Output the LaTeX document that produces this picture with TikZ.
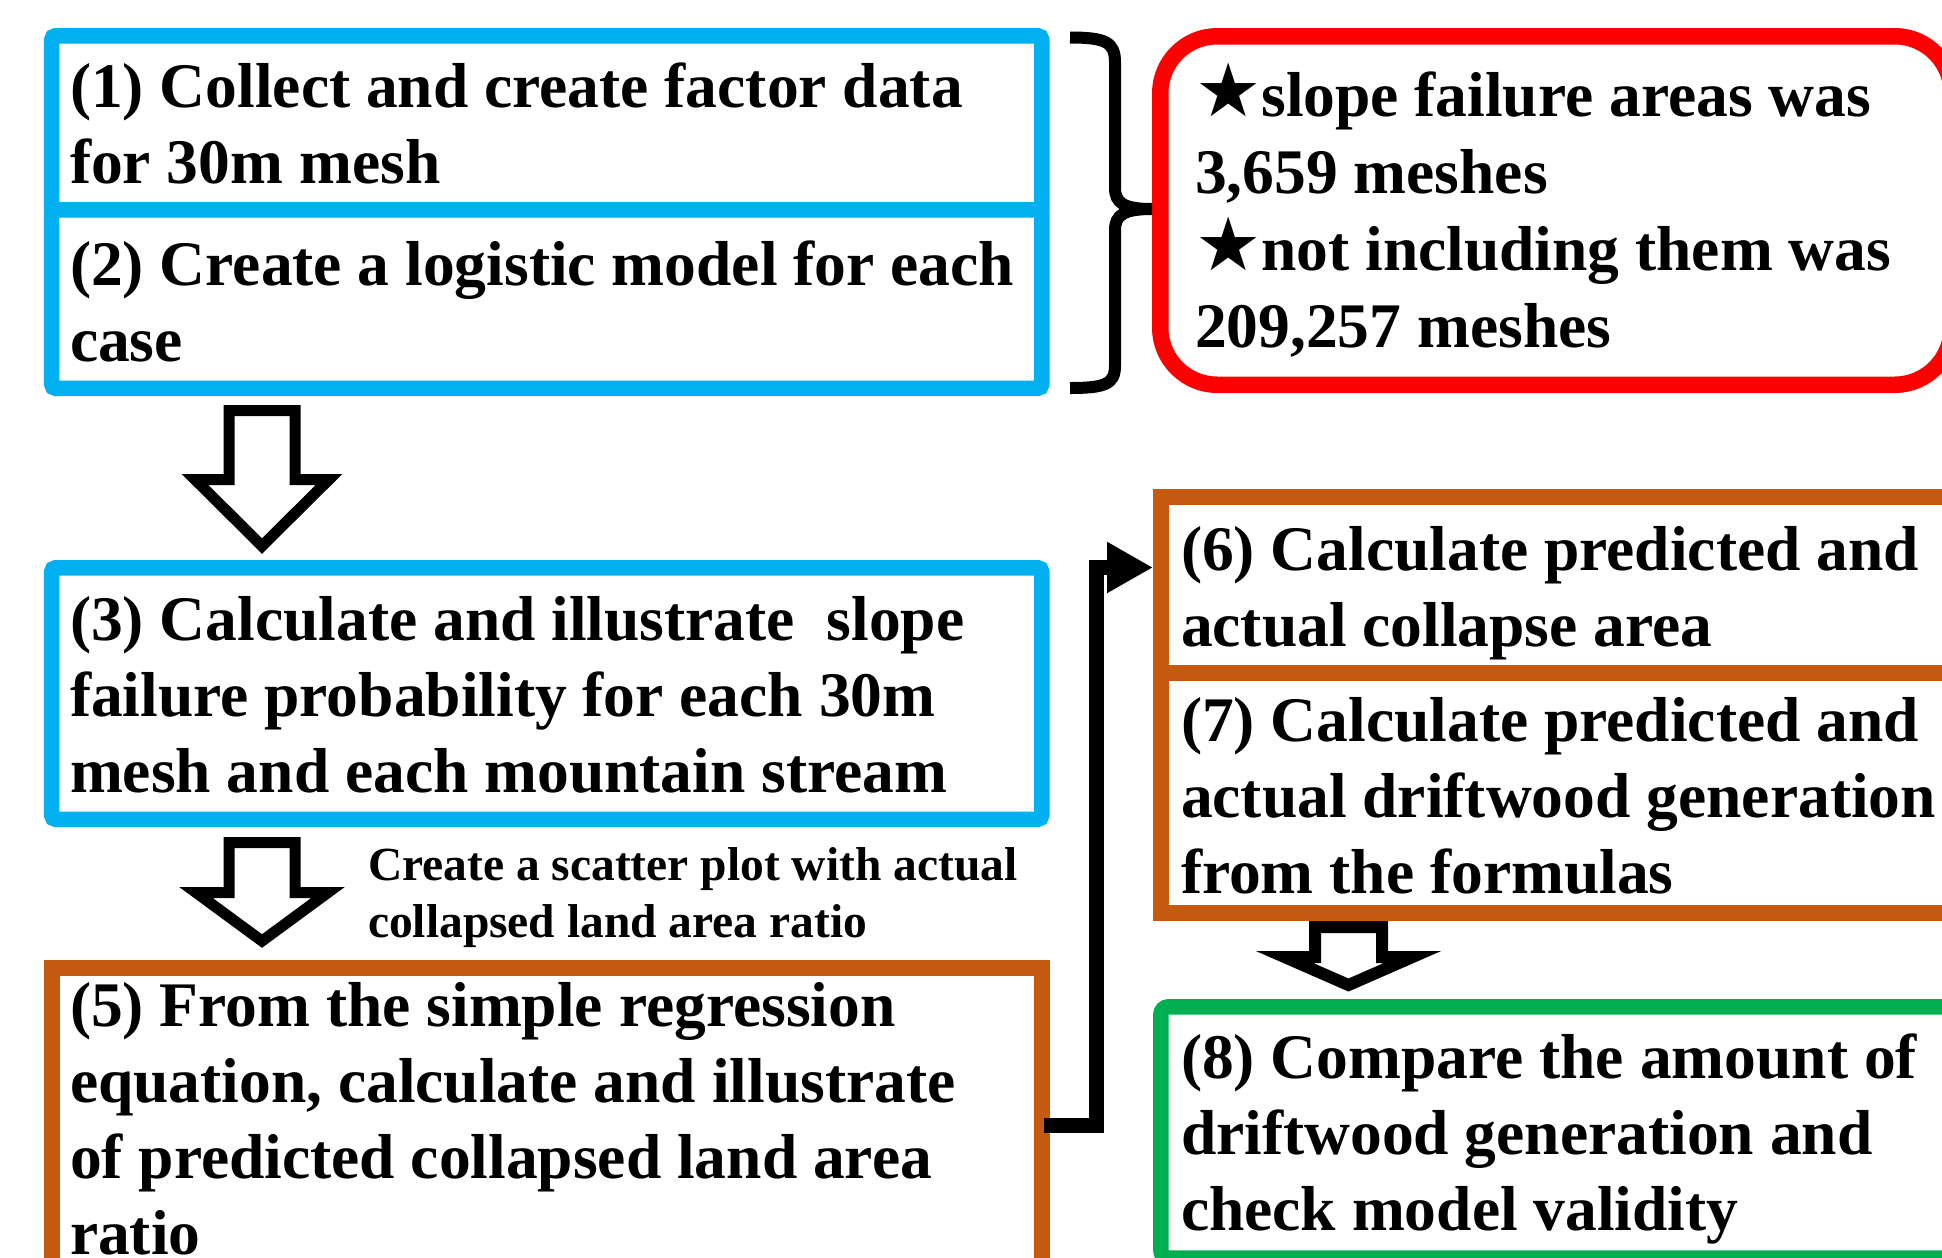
\documentclass[tikz,border=0pt]{standalone}
\usepackage{fontspec}
\setmainfont{Liberation Serif}
\newfontfamily\starfont{DejaVu Sans}
\usetikzlibrary{arrows.meta}

\definecolor{stepblue}{HTML}{00B0F0}
\definecolor{steporange}{HTML}{C55A11}
\definecolor{stepred}{HTML}{FF0000}
\definecolor{stepgreen}{HTML}{00B050}

\tikzset{
  box/.style={rectangle, inner sep=0pt, fill=white},
  bluebox/.style={box, draw=stepblue, line width=15.5bp, rounded corners=4bp},
  orangebox/.style={box, draw=steporange, line width=16bp},
  greenbox/.style={box, draw=stepgreen, line width=15.5bp, rounded corners=8bp},
  redbox/.style={box, draw=stepred, line width=16.5bp, rounded corners=57bp},
  % multi-line texts are anchored at the baseline of their last line
  steptext/.style={anchor=base west, inner sep=0pt, outer sep=0pt, align=left,
    font=\bfseries\fontsize{63.5bp}{76bp}\selectfont},
  notetext/.style={steptext, font=\bfseries\fontsize{47.5bp}{57bp}\selectfont},
  blockarrow/.style={draw=black, fill=white, line width=11bp, line join=miter},
  link/.style={draw=black, line width=15bp, line join=miter,
    -{Triangle[length=46bp, width=48bp]}},
  brace/.style={draw=black, line width=12bp, line cap=butt},
}
\newcommand{\bigstar}{{\starfont\fontsize{74bp}{74bp}\selectfont ★}}

\begin{document}
\begin{tikzpicture}[x=1bp, y=-1bp]
\useasboundingbox[fill=white] (0,0) rectangle (1942,1257);

% left column boxes
\node[bluebox, minimum width=990bp, minimum height=177.5bp] (b1) at (546.75,124.5) {};
\node[bluebox, minimum width=990bp, minimum height=178.5bp] (b2) at (546.75,299) {};
\node[bluebox, minimum width=990bp, minimum height=251.5bp] (b3) at (546.75,693.5) {};
\node[orangebox, minimum width=990bp, minimum height=332.25bp] (b5) at (546.75,1133.9) {};

% right column boxes
\node[redbox, minimum width=791.5bp, minimum height=348.5bp] (note) at (1556,210.5) {};
\node[orangebox, minimum width=799bp, minimum height=177bp] (b6) at (1560.5,585.5) {};
\node[orangebox, minimum width=799bp, minimum height=240bp] (b7) at (1560.5,793) {};
\node[greenbox, minimum width=799.25bp, minimum height=251.25bp] (b8) at (1560.4,1132.4) {};

% texts
\node[steptext] (t1) at (70,183) {(1) Collect and create factor data\\for 30m mesh};
\node[steptext] (t2) at (70,361) {(2) Create a logistic model for each\\case};
\node[steptext] (t3) at (70,792) {(3) Calculate and illustrate \ slope\\failure probability for each 30m\\mesh and each mountain stream};
\node[steptext] (t5) at (70,1254) {(5) From the simple regression\\equation, calculate and illustrate\\of predicted collapsed land area\\ratio};
\node[steptext] (t6) at (1181,646) {(6) Calculate predicted and\\actual collapse area};
\node[steptext] (t7) at (1181,893) {(7) Calculate predicted and\\actual driftwood generation\\from the formulas};
\node[steptext] (t8) at (1181,1230) {(8) Compare the amount of\\driftwood generation and\\check model validity};
\node[steptext, font=\bfseries\fontsize{63.5bp}{77bp}\selectfont] (tn) at (1195,347)
  {\bigstar slope failure areas was\\3,659 meshes\\\bigstar not including them was\\209,257 meshes};
\node[notetext] (tl) at (368,937) {Create a scatter plot with actual\\collapsed land area ratio};

% brace grouping steps (1) and (2)
\draw[brace] (1070,37.5) .. controls (1105,37.5) and (1115,42) .. (1115,62)
  -- (1115,188) .. controls (1115,203) and (1124,209) .. (1152,209)
  .. controls (1124,209) and (1115,215) .. (1115,230)
  -- (1115,366) .. controls (1115,384) and (1105,388) .. (1070,388);

% block arrows between steps
\draw[blockarrow] (229,410.5) -- (295,410.5) -- (295,479.5) -- (329,479.5)
  -- (262,546) -- (195,479.5) -- (229,479.5) -- cycle;
\draw[blockarrow] (229,842.5) -- (295,842.5) -- (295,892.5) -- (328,892.5)
  -- (262,941) -- (196,892.5) -- (229,892.5) -- cycle;
\draw[blockarrow, line width=12bp] (1315,927) -- (1382,927) -- (1382,957) -- (1412.5,957)
  -- (1348.5,985) -- (1284.5,957) -- (1315,957) -- cycle;

% elbow link from step (5) to step (6)
\coordinate (out5) at ([xshift=-6bp]b5.east |- 0,1125);
\coordinate (bend) at (1096.5,567.5);
\coordinate (in6) at (b6.west |- bend);
\draw[link] (out5) -| (bend) -- (in6);
\end{tikzpicture}
\end{document}
